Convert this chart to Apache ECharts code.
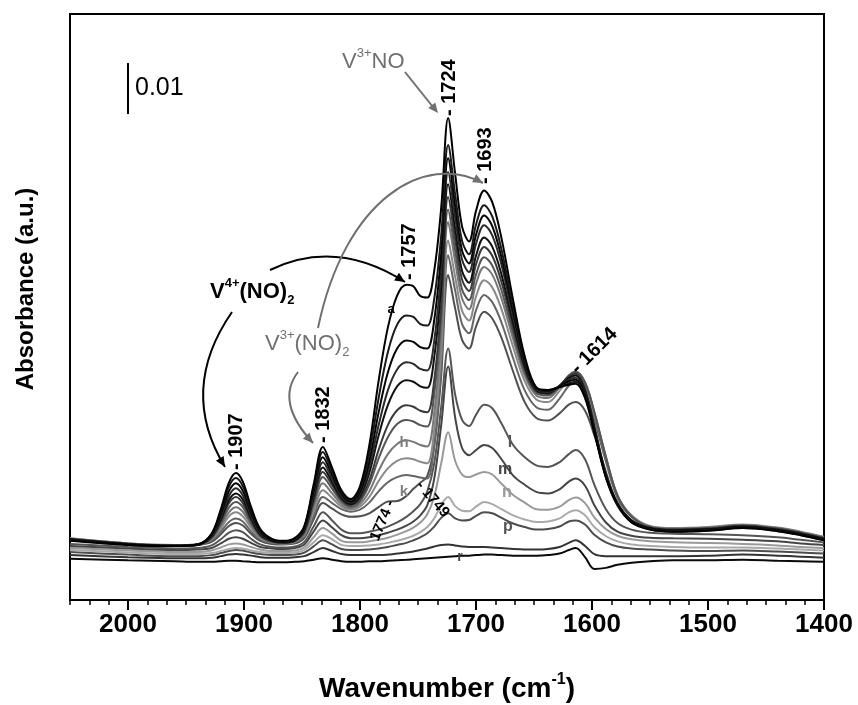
<!DOCTYPE html>
<html><head><meta charset="utf-8">
<script src="https://cdn.jsdelivr.net/npm/echarts@6/dist/echarts.min.js"></script>
<style>html,body{margin:0;padding:0;background:#fff;}#c{width:858px;height:705px;}</style>
</head><body><div id="c"></div>
<script>
// ---- data (absorbance in units of 0.001) ----
const wavenumbers = [2050,2000,1960,1940,1928,1920,1913,1907,1901,1894,1886,1876,1866,1856,1848,1840,1832,1824,1816,1808,1800,1792,1784,1776,1768,1760,1754,1748,1742,1736,1730,1724,1718,1712,1706,1700,1693,1686,1678,1668,1658,1648,1638,1628,1620,1614,1606,1598,1588,1578,1566,1550,1530,1500,1470,1440,1420,1400];
const curveNames = ['a','b','c','d','e','f','g','h','i','j','k','l','m','n','o','p','q','r'];
const curve_a = [3.8,3.0,2.8,3.1,5.2,10.0,15.2,17.1,15.4,10.5,6.1,4.2,3.8,4.4,6.7,14.8,22.2,18.1,13.7,12.0,14.5,22.5,35.1,45.6,51.9,54.0,53.7,51.8,51.5,56.8,69.1,86.7,75.8,65.4,62.5,68.5,72.5,70.2,63.1,51.0,40.0,33.9,33.4,33.9,34.4,34.6,31.8,25.0,16.3,11.0,7.4,6.0,5.6,5.8,6.3,5.7,4.9,3.9];
const curve_b = [3.9,3.0,2.8,3.1,5.1,9.5,14.4,16.1,14.5,9.9,5.8,4.1,3.7,4.2,6.5,14.2,21.2,17.4,13.4,11.8,14.0,20.9,31.7,40.8,46.2,48.0,47.7,46.3,46.0,51.3,63.7,81.4,71.8,62.6,60.0,65.8,69.6,67.4,60.9,49.6,39.5,33.8,33.3,34.0,34.7,35.0,32.1,25.2,16.2,10.7,7.5,6.1,5.7,5.9,6.4,5.8,5.0,4.0];
const curve_c = [4.0,3.1,2.8,3.0,4.9,9.0,13.5,15.1,13.6,9.4,5.6,3.9,3.6,4.1,6.3,13.6,20.2,16.7,13.0,11.5,13.4,19.4,28.9,36.8,41.5,43.1,42.8,41.8,41.5,47.1,60.2,78.8,69.5,60.7,58.2,63.8,67.6,65.5,59.3,48.7,39.0,33.7,33.2,34.1,35.1,35.4,32.5,25.5,16.4,10.9,7.7,6.2,5.8,6.0,6.5,5.9,5.1,4.1];
const curve_d = [4.0,3.1,2.8,3.0,4.7,8.5,12.6,14.1,12.7,8.8,5.3,3.8,3.5,4.0,6.0,12.9,19.2,16.0,12.6,11.3,13.0,18.2,26.4,33.3,37.4,38.8,38.5,37.5,37.2,43.0,56.7,76.1,67.3,58.9,56.5,62.0,65.7,63.7,57.9,47.7,38.6,33.5,33.0,34.1,35.4,35.8,32.8,25.7,16.6,10.9,7.7,6.2,5.8,6.0,6.5,5.9,5.1,4.1];
const curve_e = [4.1,3.2,2.9,3.1,4.6,8.0,11.8,13.1,11.9,8.3,5.1,3.8,3.5,3.9,5.9,12.3,18.2,15.3,12.2,11.0,12.5,17.1,24.4,30.4,34.1,35.3,35.0,34.1,33.8,39.8,53.8,73.7,65.0,56.7,54.4,59.7,63.3,61.5,56.0,46.5,38.0,33.3,32.8,34.2,35.7,36.2,33.2,26.0,16.8,11.1,7.8,6.3,5.9,6.1,6.6,6.0,5.2,4.2];
const curve_f = [4.1,3.2,2.9,3.1,4.5,7.7,11.2,12.4,11.2,7.9,4.9,3.7,3.4,3.8,5.6,11.7,17.3,14.7,11.9,10.8,12.0,15.7,21.6,26.5,29.4,30.4,30.1,29.3,29.0,35.3,50.1,71.2,62.9,55.0,52.8,58.0,61.4,59.7,54.5,45.6,37.5,33.1,32.6,34.2,36.0,36.6,33.6,26.3,17.0,11.2,7.9,6.4,6.0,6.2,6.7,6.1,5.3,4.3];
const curve_g = [4.2,3.2,2.9,3.1,4.3,7.2,10.3,11.4,10.4,7.4,4.8,3.6,3.4,3.8,5.5,11.1,16.3,14.0,11.5,10.5,11.5,14.8,19.9,24.1,26.7,27.5,27.2,26.5,26.2,32.6,47.5,68.7,60.7,53.1,51.0,56.0,59.4,57.8,52.9,44.5,36.9,32.8,32.3,34.1,36.2,36.9,34.8,29.0,20.2,12.6,8.6,6.5,6.1,6.3,6.8,6.2,5.4,4.4];
const curve_h = [4.2,3.3,2.9,3.0,4.2,6.7,9.4,10.4,9.5,6.9,4.5,3.5,3.3,3.7,5.2,10.4,15.1,13.1,11.0,10.2,11.0,13.5,17.5,20.8,22.8,23.5,23.2,22.6,22.3,28.9,44.3,66.3,58.6,51.3,49.2,54.2,57.5,56.0,51.3,43.4,36.2,32.3,31.8,33.9,36.2,37.0,34.9,29.1,20.3,12.7,8.7,6.6,6.2,6.4,6.9,6.3,5.5,4.5];
const curve_i = [4.3,3.3,3.0,3.1,4.1,6.2,8.6,9.4,8.6,6.4,4.3,3.5,3.3,3.6,5.0,9.5,13.7,12.2,10.5,9.9,10.5,12.4,15.5,18.0,19.5,20.0,19.8,19.3,19.0,25.6,40.9,62.7,55.6,48.9,47.0,51.7,54.9,53.5,49.2,41.8,35.1,31.5,31.0,33.2,35.7,36.5,34.4,28.8,20.1,12.7,8.8,6.7,6.3,6.5,7.0,6.4,5.6,4.6];
const curve_j = [4.3,3.3,3.0,3.1,3.9,5.6,7.5,8.2,7.6,5.7,4.1,3.4,3.2,3.5,4.7,8.7,12.4,11.2,10.0,9.5,9.9,11.3,13.5,15.3,16.3,16.7,16.5,16.2,16.0,22.6,37.9,59.8,52.9,46.3,44.5,49.0,52.0,50.6,46.6,39.6,33.3,30.0,29.5,31.7,34.2,35.0,33.0,27.6,19.3,12.2,8.5,6.5,6.1,6.3,6.8,6.2,5.4,4.4];
const curve_k = [4.0,3.2,2.9,3.0,3.6,5.1,6.7,7.3,6.8,5.2,3.8,3.2,3.1,3.3,4.4,8.0,11.2,10.1,9.0,8.5,8.6,9.2,10.4,11.5,11.6,12.6,14.0,15.2,16.5,22.4,36.2,55.9,49.4,43.2,41.5,45.8,48.7,47.4,43.6,37.0,31.0,27.9,27.4,28.8,30.5,31.0,29.3,24.5,17.3,11.0,7.8,6.0,5.6,5.8,6.3,5.7,4.9,3.9];
const curve_l = [3.2,2.6,2.3,2.4,2.9,4.1,5.4,5.9,5.5,4.2,3.1,2.6,2.5,2.7,3.6,6.6,9.4,7.8,6.0,5.3,5.3,5.6,6.0,6.6,7.4,8.5,9.6,11.0,13.5,19.0,30.0,41.5,32.5,27.5,26.3,28.5,30.5,29.8,26.8,22.6,20.2,18.6,18.3,19.2,20.8,21.6,19.8,14.8,10.0,7.3,6.0,5.4,5.2,5.1,4.9,4.5,4.0,3.5];
const curve_m = [2.8,2.3,2.0,2.1,2.4,3.3,4.2,4.5,4.2,3.4,2.6,2.3,2.2,2.4,3.1,5.6,7.8,6.4,4.9,4.3,4.3,4.5,4.9,5.4,6.0,6.8,7.6,8.8,10.8,16.0,26.5,38.0,28.0,22.0,20.6,21.6,22.6,22.0,19.8,16.6,14.8,13.4,13.1,13.9,15.4,16.0,14.6,10.8,7.4,5.6,4.8,4.4,4.3,4.2,4.0,3.7,3.3,3.0];
const curve_n = [2.4,1.9,1.6,1.6,1.9,2.5,3.1,3.3,3.1,2.6,2.1,1.8,1.8,1.9,2.5,4.5,6.3,5.2,3.8,3.5,3.5,3.7,4.0,4.4,5.0,5.7,6.4,7.4,9.0,12.5,19.0,25.1,19.5,16.8,16.3,16.8,17.3,16.8,15.0,12.8,11.3,10.0,9.9,10.5,11.8,12.3,11.2,8.4,6.1,4.8,4.1,3.7,3.5,3.4,3.2,2.9,2.6,2.4];
const curve_o = [2.0,1.5,1.2,1.2,1.4,1.8,2.2,2.4,2.3,1.9,1.6,1.4,1.4,1.5,2.0,3.5,4.9,4.1,3.0,2.8,2.8,2.9,3.1,3.4,3.8,4.3,4.8,5.5,6.5,8.2,10.8,12.4,10.6,9.7,9.6,10.5,11.4,11.0,10.0,8.8,8.0,7.5,7.6,8.2,9.4,9.8,8.8,6.5,4.7,3.7,3.1,2.8,2.6,2.5,2.5,2.3,2.1,1.9];
const curve_p = [1.6,1.1,0.8,0.8,1.0,1.4,1.8,2.0,1.9,1.5,1.2,1.0,1.0,1.1,1.5,2.7,3.9,3.1,2.2,2.0,2.0,2.1,2.3,2.6,3.0,3.4,3.9,4.5,5.3,6.6,8.3,9.2,8.2,7.8,7.9,8.7,9.4,9.2,8.3,7.2,6.5,6.0,6.1,6.6,7.6,7.8,7.0,5.0,3.5,2.7,2.3,2.1,1.9,1.8,1.9,1.7,1.5,1.3];
const curve_q = [1.0,0.6,0.4,0.4,0.5,0.8,1.1,1.2,1.1,0.9,0.6,0.5,0.5,0.6,0.8,1.6,2.4,1.8,1.2,1.0,1.0,1.0,1.0,1.1,1.3,1.5,1.7,2.0,2.3,2.7,3.0,3.1,2.9,2.7,2.6,2.6,2.6,2.5,2.4,2.2,2.1,2.1,2.2,2.6,3.4,3.9,2.8,1.2,0.8,0.8,0.8,0.8,0.8,0.9,1.1,0.9,0.7,0.5];
const curve_r = [0.3,0.0,-0.2,-0.3,-0.3,-0.2,-0.1,-0.1,-0.2,-0.3,-0.4,-0.4,-0.4,-0.3,-0.2,0.1,0.4,0.1,-0.2,-0.3,-0.3,-0.2,-0.2,-0.1,0.0,0.1,0.2,0.3,0.4,0.5,0.6,0.7,0.8,0.9,0.9,1.0,1.1,1.1,1.0,0.9,0.9,0.9,1.0,1.3,2.0,2.4,0.6,-1.7,-1.5,-0.9,-0.5,-0.2,0.0,0.0,0.1,-0.1,-0.2,-0.3];
const xTickLabels = [2000,1900,1800,1700,1600,1500,1400];
const scaleBar = {wavenumber: 2000, from: 87.5, size: 10, label: '0.01'};

// ---- styles ----
const curves = [curve_a,curve_b,curve_c,curve_d,curve_e,curve_f,curve_g,curve_h,curve_i,curve_j,curve_k,curve_l,curve_m,curve_n,curve_o,curve_p,curve_q,curve_r];
const curveColors = ['#000','#1a1a1a','#050505','#2b2b2b','#111','#3a3a3a','#555','#777','#8a8a8a','#666','#505050','#555','#454545','#9a9a9a','#aaaaaa','#4d4d4d','#333','#0a0a0a'];

function fontAvailable(name){
  const ctx=document.createElement('canvas').getContext('2d');
  const s='Wavenumber 2000 Absorbance';
  ctx.font='bold 40px monospace'; const a=ctx.measureText(s).width;
  ctx.font='bold 40px "'+name+'", monospace'; const b=ctx.measureText(s).width;
  return Math.abs(a-b)>0.5;
}
const narrowOK = fontAvailable('Liberation Sans Narrow');
const NARROW = narrowOK ? 'Liberation Sans Narrow' : 'Liberation Sans';
const SANS = 'Liberation Sans';
const FS = narrowOK ? {tick:30, title:32, sup:17, peak:23, small:17} : {tick:26, title:28, sup:16, peak:20, small:15};

const chart = echarts.init(document.getElementById('c'), null, {renderer:'canvas'});

const series = [];
for (let i = curves.length - 1; i >= 0; i--) {
  series.push({
    type:'line', name: curveNames[i], xAxisIndex:0, yAxisIndex:0,
    data: wavenumbers.map((w,j)=>[w, curves[i][j]]),
    showSymbol:false, symbol:'none', smooth:0.35,
    lineStyle:{color:curveColors[i], width:2}, emphasis:{disabled:true}, silent:true
  });
}

chart.setOption({
  animation:false,
  backgroundColor:'#fff',
  grid:{left:70, right:34, top:14, bottom:105, containLabel:false, outerBoundsMode:'none',
        show:true, borderColor:'#000', borderWidth:2, backgroundColor:'transparent'},
  xAxis:[{
    type:'value', min:1400, max:2050, inverse:true, interval:100, position:'bottom',
    axisLine:{show:true, onZero:false, lineStyle:{color:'#000', width:2}},
    axisTick:{show:true, inside:false, length:10, customValues:xTickLabels, lineStyle:{color:'#000', width:2}},
    axisLabel:{customValues:xTickLabels, color:'#000', fontSize:FS.tick, fontWeight:'bold', fontFamily:NARROW, margin:12,
      formatter:(v)=> v===2050 ? '' : String(v)},
    splitLine:{show:false},
    name:'{a|Wavenumber (cm}{b|-1}{a|)}', nameLocation:'middle', nameGap:72,
    nameTextStyle:{rich:{
      a:{fontSize:FS.title, fontWeight:'bold', fontFamily:NARROW, color:'#000', lineHeight:34},
      b:{fontSize:FS.sup, fontWeight:'bold', fontFamily:NARROW, color:'#000', lineHeight:16, verticalAlign:'top'}
    }}
  },{
    type:'value', min:1400, max:2050, inverse:true, interval:100/6, position:'bottom',
    axisLine:{show:false, onZero:false}, axisLabel:{show:false}, splitLine:{show:false},
    axisTick:{show:true, inside:false, length:5, lineStyle:{color:'#000', width:1.5}}
  }],
  yAxis:{
    type:'value', min:-7.8, max:107.1,
    axisLine:{show:false}, axisTick:{show:false}, axisLabel:{show:false}, splitLine:{show:false},
    name:'Absorbance (a.u.)', nameLocation:'middle', nameGap:32,
    nameTextStyle:{fontSize:24, fontWeight:'bold', fontFamily:SANS, color:'#000', padding:[0,0,0,36]}
  },
  series: series
});

// ---- annotations ----
const GRAY = '#707070';
function arrowHead(x,y,dx,dy,color){
  const L=Math.hypot(dx,dy), ux=dx/L, uy=dy/L, len=10, half=4.5;
  const bx=x-ux*len, by=y-uy*len;
  return {type:'polygon', z:100, shape:{points:[[x,y],[bx-uy*half,by+ux*half],[bx+uy*half,by-ux*half]]}, style:{fill:color, stroke:null}};
}
function curveArrow(p0,c1,c2,p3,color){
  const shape = c2 ? {x1:p0[0],y1:p0[1],cpx1:c1[0],cpy1:c1[1],cpx2:c2[0],cpy2:c2[1],x2:p3[0],y2:p3[1]}
                   : {x1:p0[0],y1:p0[1],cpx1:c1[0],cpy1:c1[1],x2:p3[0],y2:p3[1]};
  const last = c2 || c1;
  return [
    {type:'bezierCurve', z:100, shape:shape, style:{stroke:color, lineWidth:2, fill:null}},
    arrowHead(p3[0],p3[1],p3[0]-last[0],p3[1]-last[1],color)
  ];
}
function txt(t,x,y,opt){
  return {type:'text', z:101, x:x, y:y, rotation:opt.rot||0,
    style:{text:t, fill:opt.color||'#000', fontSize:opt.size, fontWeight:opt.weight||'bold', fontFamily:opt.family||SANS,
      align:opt.align||'left', verticalAlign:opt.valign||'middle', textAlign:opt.align||'left', textVerticalAlign:opt.valign||'middle'}};
}
function richTxt(parts,x,y,color,weight,size){
  const rich = {
    m:{fontSize:size, fontWeight:weight, fontFamily:SANS, fill:color, lineHeight:30},
    s:{fontSize:Math.round(size*0.6), fontWeight:weight, fontFamily:SANS, fill:color, lineHeight:14, verticalAlign:'top'},
    u:{fontSize:Math.round(size*0.6), fontWeight:weight, fontFamily:SANS, fill:color, lineHeight:14, verticalAlign:'bottom'}
  };
  return {type:'text', z:101, x:x, y:y, style:{text:parts, rich:rich, fill:color, align:'left', verticalAlign:'middle', textAlign:'left', textVerticalAlign:'middle'}};
}

const sb0 = chart.convertToPixel({xAxisIndex:0, yAxisIndex:0}, [scaleBar.wavenumber, scaleBar.from]);
const sb1 = chart.convertToPixel({xAxisIndex:0, yAxisIndex:0}, [scaleBar.wavenumber, scaleBar.from + scaleBar.size]);

const PL = FS.peak;
const R90 = Math.PI/2;
const g = [];
g.push({type:'line', z:100, shape:{x1:sb0[0],y1:sb0[1],x2:sb1[0],y2:sb1[1]}, style:{stroke:'#000', lineWidth:2}});
g.push(txt(scaleBar.label, sb0[0]+7, (sb0[1]+sb1[1])/2, {size:25, weight:'normal'}));

// peak labels
g.push(txt('- 1907', 236, 470, {size:PL, family:NARROW, rot:R90}));
g.push(txt('- 1832', 323, 443, {size:PL, family:NARROW, rot:R90}));
g.push(txt('- 1757', 409, 280, {size:PL, family:NARROW, rot:R90}));
g.push(txt('- 1724', 449, 116, {size:PL, family:NARROW, rot:R90}));
g.push(txt('- 1693', 485, 184, {size:PL, family:NARROW, rot:R90}));
g.push(txt('- 1614', 574, 371, {size:PL, family:NARROW, rot:Math.PI/4}));
g.push(txt('1774 -', 391, 501, {size:FS.small, family:NARROW, rot:1.17, align:'right'}));
g.push(txt('- 1749', 419, 483, {size:FS.small, family:NARROW, rot:-0.87}));

// species labels
g.push(richTxt('{m|V}{s|3+}{m|NO}', 342, 62, GRAY, 'normal', 22));
g.push(richTxt('{m|V}{s|4+}{m|(NO)}{u|2}', 210, 292, '#000', 'bold', 22));
g.push(richTxt('{m|V}{s|3+}{m|(NO)}{u|2}', 265, 344, GRAY, 'normal', 22));

// arrows
g.push(...curveArrow([270,270],[336,238],null,[405,282],'#000'));
g.push(...curveArrow([232,312],[178,390],null,[225,467],'#000'));
g.push(...curveArrow([318,328],[345,198],[425,152],[483,183],GRAY));
g.push(...curveArrow([298,372],[275,402],null,[313,443],GRAY));
g.push({type:'line', z:100, shape:{x1:405,y1:72,x2:433,y2:107}, style:{stroke:GRAY, lineWidth:2}});
g.push(arrowHead(438,113,32,40,GRAY));

// curve letters
g.push(txt('a', 391, 309, {size:13, color:'#000', align:'center'}));
g.push(txt('h', 404, 443, {size:15, color:'#808080', align:'center'}));
g.push(txt('k', 404, 492, {size:15, color:'#808080', align:'center'}));
g.push(txt('l', 510, 443, {size:16, color:'#555', align:'center'}));
g.push(txt('m', 505, 470, {size:16, color:'#444', align:'center'}));
g.push(txt('n', 507, 493, {size:16, color:'#999', align:'center'}));
g.push(txt('p', 508, 527, {size:16, color:'#555', align:'center'}));
g.push(txt('r', 460, 557, {size:14, color:'#444', align:'center'}));

chart.setOption({graphic: g});
</script></body></html>
